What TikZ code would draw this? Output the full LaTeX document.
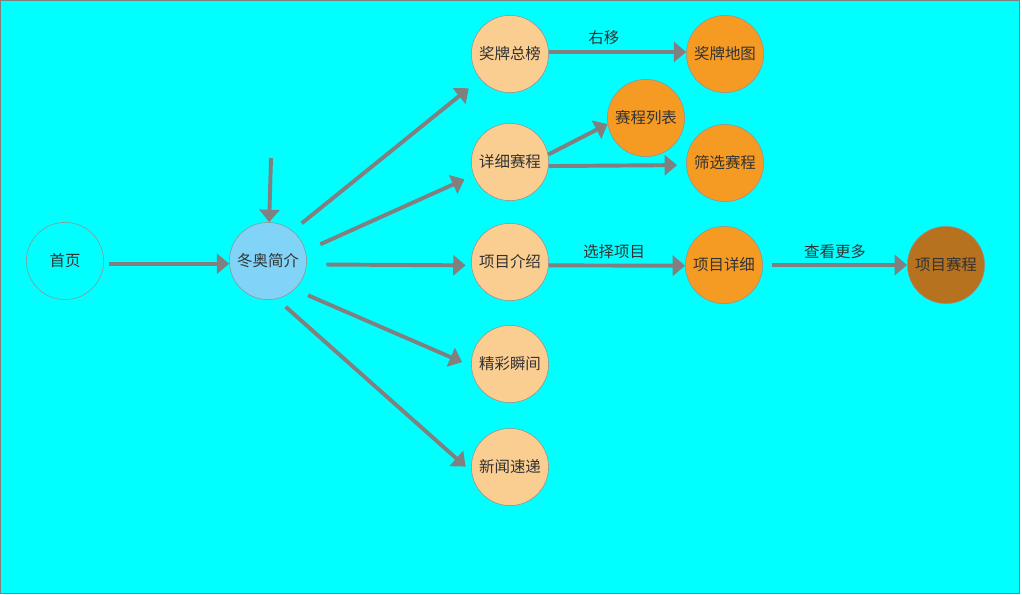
\documentclass[tikz,border=0pt]{standalone}
\usepackage{fontspec}
\usetikzlibrary{arrows.meta}
\newfontfamily\cjk{Noto Sans CJK SC}
\definecolor{bgcyan}{RGB}{0,255,255}
\definecolor{linegray}{RGB}{128,128,128}
\definecolor{textgray}{RGB}{51,51,51}
\definecolor{rimgray}{RGB}{150,145,140}
\definecolor{pageblue}{RGB}{129,211,248}
\definecolor{pagepeach}{RGB}{250,205,145}
\definecolor{pageorange}{RGB}{245,154,35}
\definecolor{pagebrown}{RGB}{182,114,30}

\begin{document}
\begin{tikzpicture}[
    x=0.025cm, y=-0.025cm,
    page/.style={circle, draw=rimgray, minimum size=1.93cm, inner sep=0pt,
                 text=textgray, font=\cjk\fontsize{11}{13}\selectfont},
    arrow/.style={-{Triangle[length=0.31cm, width=0.5cm]}, line width=2.8pt, draw=linegray},
    tag/.style={text=textgray, font=\cjk\fontsize{11}{13}\selectfont}
]
    \useasboundingbox (0,0) rectangle (1022,594);
    \draw[fill=bgcyan, draw=linegray] (0.5,0.5) rectangle (1019.5,593.5);

    \node[page] (home) at (65,261) {首页};
    \node[page, fill=pageblue] (intro) at (268,261) {冬奥简介};
    \coordinate (entry) at (271,158);

    \node[page, fill=pagepeach] (medal) at (510,54) {奖牌总榜};
    \node[page, fill=pagepeach] (sched) at (510,162) {详细赛程};
    \node[page, fill=pagepeach] (event) at (510,262) {项目介绍};
    \node[page, fill=pagepeach] (moment) at (510,364) {精彩瞬间};
    \node[page, fill=pagepeach] (news) at (510,467) {新闻速递};

    \node[page, fill=pageorange] (map) at (725,54) {奖牌地图};
    \node[page, fill=pageorange] (list) at (646,118) {赛程列表};
    \node[page, fill=pageorange] (filter) at (725,163) {筛选赛程};
    \node[page, fill=pageorange] (detail) at (724,265) {项目详细};
    \node[page, fill=pagebrown] (games) at (946,265) {项目赛程};

    \draw[arrow, shorten <=3.5pt] (home.-4) -- (intro.184);
    \draw[arrow] (entry) -- (intro);
    \draw[arrow, shorten <=8.5pt, shorten >=10.5pt] (intro.51) -- (medal.220);
    \draw[arrow, shorten <=11.5pt, shorten >=7pt] (intro.15) -- (sched.200);
    \draw[arrow, shorten <=14pt, shorten >=4pt] (intro.-5) -- (event.185);
    \draw[arrow, shorten <=10.5pt, shorten >=7pt] (intro.-47) -- (moment.183);
    \draw[arrow, shorten <=8.5pt, shorten >=5.5pt] (intro.-77) -- (news.187);

    \draw[arrow] (medal.3) -- node[tag, above=0.5pt, pos=0.4] {右移} (map.177);
    \draw[arrow] (sched.11) -- (list.189);
    \draw[arrow, shorten >=6.5pt] (sched.-6) -- (filter.183);
    \draw[arrow] (event.-5) -- node[tag, above=0pt, pos=0.48] {选择项目} (detail.181);
    \draw[arrow, shorten <=6.5pt] (detail) -- node[tag, above=0pt] {查看更多} (games);
\end{tikzpicture}
\end{document}
